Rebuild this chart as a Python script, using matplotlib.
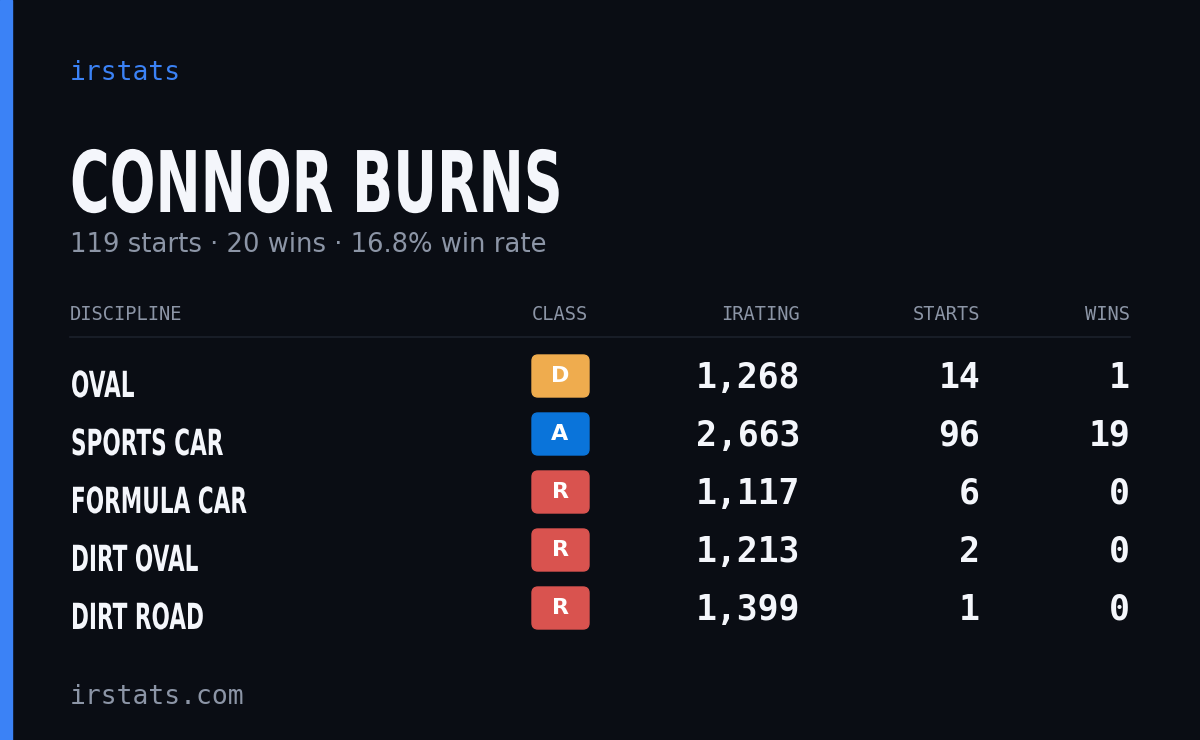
import matplotlib.pyplot as plt
from matplotlib.patches import FancyBboxPatch, Rectangle, PathPatch
from matplotlib.textpath import TextPath
from matplotlib.font_manager import FontProperties
from matplotlib.transforms import Affine2D

# ---- data ----
disciplines = ["OVAL", "SPORTS CAR", "FORMULA CAR", "DIRT OVAL", "DIRT ROAD"]
classes = ["D", "A", "R", "R", "R"]
iratings = [1268, 2663, 1117, 1213, 1399]
starts = [14, 96, 6, 2, 1]
wins = [1, 19, 0, 0, 0]
headers = ["DISCIPLINE", "CLASS", "IRATING", "STARTS", "WINS"]
driver = "CONNOR BURNS"
subtitle = "119 starts \u00b7 20 wins \u00b7 16.8% win rate"

CLASS_COLORS = {"D": "#efac4e", "A": "#0a74da", "R": "#d9534f"}
BG = "#0a0d14"
GRAY = "#8c95a6"
WHITE = "#f4f6fb"
MONO = ["DejaVu Sans Mono"]
BOLD = FontProperties(family="DejaVu Sans", weight="bold")

W, H = 1200, 740
fig = plt.figure(figsize=(12, 7.4), dpi=100, facecolor=BG)
ax = fig.add_axes([0, 0, 1, 1])
ax.set_xlim(0, W)
ax.set_ylim(H, 0)
ax.axis("off")


def condensed(x, baseline, s, size, sx=0.6):
    # no condensed font installed: squeeze a bold text path horizontally
    tp = TextPath((0, 0), s, size=size, prop=BOLD)
    tr = Affine2D().scale(sx, -1).translate(x, baseline)
    ax.add_patch(PathPatch(tr.transform_path(tp), color=WHITE, lw=0))


ax.add_patch(Rectangle((0, 0), 12, H, color="#3b82f6"))

ax.text(70, 73, "irstats", color="#3b82f6", family=MONO, fontsize=19, va="center")
condensed(70, 212, driver, 85, sx=0.635)
ax.text(70, 245, subtitle, color=GRAY, fontsize=18.6, va="center")

# header
hx = [70, 560, 800, 980, 1130]
ha = ["left", "center", "right", "right", "right"]
for x, h, a in zip(hx, headers, ha):
    ax.text(x, 314, h, color=GRAY, family=MONO, fontsize=13.5, ha=a, va="center")
ax.plot([70, 1130], [337, 337], color="#1c212c", lw=1.2)

row_y = [377, 435, 493, 551, 609]
for i, y in enumerate(row_y):
    condensed(71, y + 20, disciplines[i], 36)
    c = classes[i]
    ax.add_patch(FancyBboxPatch((535, y - 19), 51, 36,
                                boxstyle="round,pad=3,rounding_size=6",
                                color=CLASS_COLORS[c]))
    ax.text(560, y - 1, c, color="white", fontweight="bold", fontsize=16,
            ha="center", va="center")
    ax.text(800, y + 1, f"{iratings[i]:,}", color=WHITE, family=MONO,
            fontweight="bold", fontsize=25, ha="right", va="center")
    ax.text(980, y + 1, str(starts[i]), color=WHITE, family=MONO,
            fontweight="bold", fontsize=25, ha="right", va="center")
    ax.text(1130, y + 1, str(wins[i]), color=WHITE, family=MONO,
            fontweight="bold", fontsize=25, ha="right", va="center")

ax.text(70, 697, "irstats.com", color=GRAY, family=MONO, fontsize=19, va="center")

fig.savefig("out.png", dpi=100, facecolor=BG)
